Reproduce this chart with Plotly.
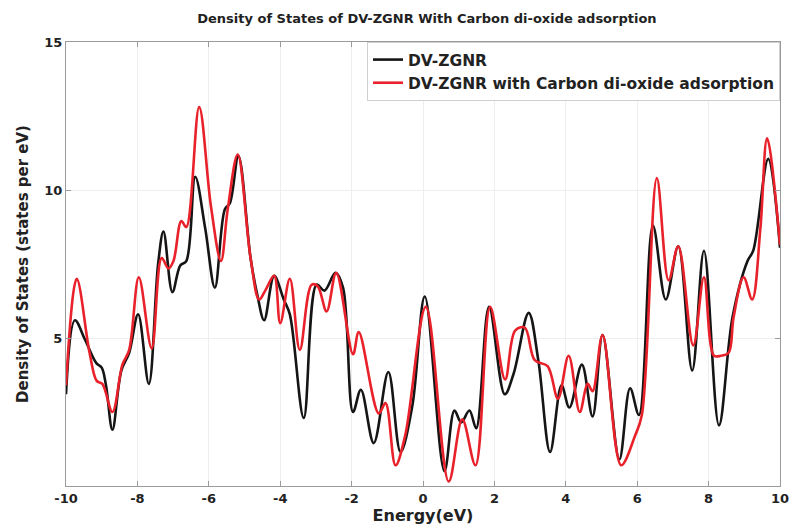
import plotly.graph_objects as go

# DV-ZGNR density of states
energy_pristine = [-10.0, -9.75, -9.47, -9.15, -9.0, -8.88, -8.70, -8.45, -8.23, -7.98,
                   -7.68, -7.42, -7.27, -7.02, -6.80, -6.63, -6.38, -6.10, -5.83, -5.55,
                   -5.41, -5.17, -4.83, -4.64, -4.45, -4.17, -3.90, -3.73, -3.34, -2.98,
                   -2.76, -2.45, -2.24, -1.96, -1.74, -1.38, -0.97, -0.63, -0.30, 0.05,
                   0.60, 0.88, 1.07, 1.30, 1.49, 1.85, 2.29, 2.54, 2.96, 3.23,
                   3.56, 3.88, 4.10, 4.45, 4.75, 5.03, 5.50, 5.80, 6.05, 6.44,
                   6.80, 7.15, 7.54, 7.87, 8.29, 8.67, 9.09, 9.25, 9.67, 10.0]
dos_pristine = [3.1, 5.6, 4.95, 4.15, 4.0, 3.4, 1.9, 3.9, 4.5, 5.8,
                3.45, 7.5, 8.6, 6.55, 7.45, 7.6, 10.45, 8.7, 6.7, 9.35,
                9.55, 11.15, 7.7, 6.45, 5.6, 7.1, 6.3, 5.8, 2.3, 6.8,
                6.6, 7.2, 6.7, 2.5, 3.25, 1.45, 3.85, 1.15, 2.7, 6.4,
                0.5, 2.55, 2.15, 2.55, 1.95, 6.05, 3.1, 3.8, 5.85, 4.25,
                1.15, 3.4, 2.65, 4.1, 2.35, 5.1, 0.9, 3.3, 2.4, 8.8,
                6.3, 8.1, 3.9, 7.95, 2.05, 5.7, 7.6, 7.95, 11.05, 8.05]

# DV-ZGNR with CO2 adsorbed
energy_co2 = [-10.0, -9.70, -9.34, -9.14, -8.98, -8.70, -8.42, -8.23, -7.96, -7.60,
              -7.32, -7.13, -6.99, -6.77, -6.63, -6.27, -5.94, -5.66, -5.47, -5.19,
              -4.83, -4.59, -4.42, -4.17, -4.00, -3.73, -3.45, -3.12, -2.95, -2.70,
              -2.43, -1.96, -1.80, -1.24, -1.05, -0.77, -0.50, 0.08, 0.72, 1.10,
              1.47, 1.88, 2.30, 2.58, 2.85, 3.13, 3.49, 3.78, 4.08, 4.39,
              4.61, 4.75, 5.03, 5.55, 5.94, 6.13, 6.55, 6.88, 7.15, 7.57,
              7.87, 8.15, 8.34, 8.56, 8.70, 8.98, 9.22, 9.45, 9.64, 10.0]
dos_co2 = [3.4, 7.0, 4.5, 3.55, 3.45, 2.5, 4.1, 4.6, 7.05, 4.65,
           7.7, 7.35, 7.6, 8.95, 8.75, 12.8, 9.45, 7.6, 9.35, 11.2,
           7.7, 6.3, 6.6, 7.1, 5.5, 7.0, 4.6, 6.8, 6.75, 5.9,
           7.2, 4.45, 5.2, 2.45, 2.8, 0.7, 1.7, 6.05, 0.15, 2.25,
           0.7, 6.05, 3.6, 5.25, 5.35, 4.25, 4.05, 2.95, 4.4, 2.5,
           3.45, 3.2, 5.1, 0.7, 1.7, 2.4, 10.4, 6.95, 8.1, 4.75,
           7.05, 4.4, 4.4, 4.5, 5.7, 7.05, 6.3, 8.7, 11.75, 8.15]

x_ticks = [-10, -8, -6, -4, -2, 0, 2, 4, 6, 8, 10]
x_tick_labels = ["-10", "-8", "-6", "-4", "-2", "0", "2", "4", "6", "8", "10"]
y_ticks = [5, 10, 15]
y_tick_labels = ["5", "10", "15"]

FONT = "DejaVu Sans, Liberation Sans, sans-serif"
INK = "#222222"

fig = go.Figure()
fig.add_trace(go.Scatter(
    x=energy_pristine, y=dos_pristine, mode="lines", name="DV-ZGNR",
    line=dict(color="#151515", width=2.6, shape="spline", smoothing=1.0),
))
fig.add_trace(go.Scatter(
    x=energy_co2, y=dos_co2, mode="lines",
    name="DV-ZGNR with Carbon di-oxide adsorption",
    line=dict(color="#e8212b", width=2.6, shape="spline", smoothing=1.0),
))

axis_common = dict(
    showline=True, linecolor="#9a9a9a", linewidth=1, mirror="ticks",
    ticks="inside", ticklen=5, tickcolor="#9a9a9a",
    showgrid=True, gridcolor="#eeeeee", gridwidth=1, zeroline=False,
    tickfont=dict(family=FONT, size=13, color=INK, weight="bold"),
)

fig.update_layout(
    width=801, height=531,
    margin=dict(l=66, r=13, t=42, b=40),
    paper_bgcolor="white", plot_bgcolor="white",
    title=dict(
        text="Density of States of DV-ZGNR With Carbon di-oxide adsorption",
        x=0.533, xanchor="center", y=0.966, yanchor="middle",
        font=dict(family=FONT, size=13, color=INK, weight="bold"),
    ),
    xaxis=dict(range=[-10, 10], tickvals=x_ticks, ticktext=x_tick_labels,
               title=dict(text="Energy(eV)", standoff=2,
                          font=dict(family=FONT, size=16, color=INK, weight="bold")),
               **axis_common),
    yaxis=dict(range=[0, 15], tickvals=y_ticks, ticktext=y_tick_labels,
               title=dict(text="Density of States (states per eV)", standoff=12,
                          font=dict(family=FONT, size=15, color=INK, weight="bold")),
               **axis_common),
    legend=dict(
        x=1, xanchor="right", y=1, yanchor="top",
        bgcolor="white", bordercolor="#cfcfcf", borderwidth=1,
        font=dict(family=FONT, size=15.5, color=INK, weight="bold"),
        itemwidth=30, tracegroupgap=0,
    ),
    showlegend=True,
)

fig.write_html("out.html")
